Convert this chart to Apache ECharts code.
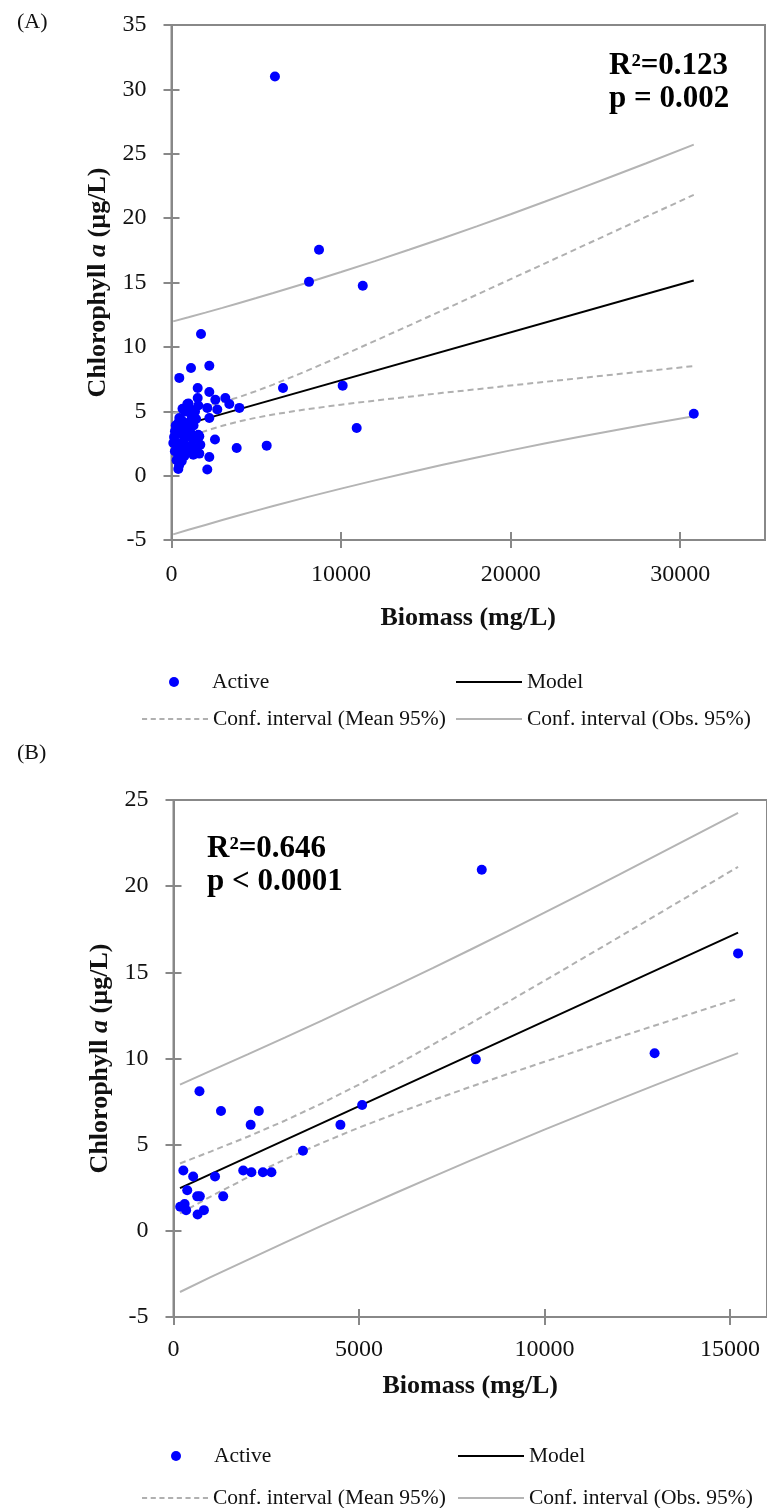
<!DOCTYPE html>
<html><head><meta charset="utf-8">
<script src="https://cdn.jsdelivr.net/npm/echarts@6/dist/echarts.min.js"></script>
<style>html,body{margin:0;padding:0;background:#fff}#c{width:767px;height:1508px}</style>
</head><body><div id="c"></div>
<script>
// ---------- Panel A data ----------
const aActiveX = [6100,8700,8110,11280,1740,1150,2230,460,6575,10095,1545,2230,1545,2585,3175,3410,4000,932,1580,2110,2700,796,1386,460,1190,2230,400,10920,206,896,1580,1640,2565,206,696,1286,3845,5614,307,896,1286,1640,2230,400,601,400,2110,106,30800,
  150,250,300,350,500,550,600,700,750,800,850,1000,1050,1100,1200,1300,1400,1450,200,450,1700,1000,1200,650];
const aActiveY = [31.0,17.55,15.05,14.75,11.0,8.36,8.54,7.59,6.81,6.99,6.81,6.5,6.03,5.9,6.03,5.57,5.26,5.57,5.44,5.26,5.13,4.99,4.99,4.48,4.61,4.48,4.09,3.7,3.44,3.57,3.18,3.05,2.8,2.66,2.66,2.8,2.15,2.33,2.02,1.89,1.63,1.71,1.45,1.5,1.11,0.52,0.47,2.54,4.8,
  3.0,3.9,1.2,2.3,3.3,2.0,4.3,3.7,1.5,2.4,3.0,4.1,1.9,3.4,2.3,3.9,2.0,4.4,1.9,0.8,2.4,5.6,5.1,5.2];
const aModelX = [100, 30800];
const aModelY = [3.71, 15.16];
const aCiX      = [100,1000,2000,3000,4000,5000,6000,8000,10000,12000,14000,16000,18000,20000,22000,24000,26000,28000,30800];
const aMeanUp   = [4.85,5.07,5.36,5.71,6.11,6.57,7.07,8.15,9.29,10.47,11.65,12.85,14.05,15.26,16.47,17.68,18.89,20.11,21.81];
const aMeanLo   = [2.56,3.01,3.47,3.87,4.22,4.50,4.75,5.16,5.51,5.83,6.13,6.43,6.71,7.00,7.28,7.56,7.84,8.12,8.51];
const aObsUp    = [11.98,12.30,12.66,13.03,13.41,13.79,14.18,14.98,15.81,16.66,17.54,18.44,19.36,20.30,21.27,22.25,23.25,24.26,25.71];
const aObsLo    = [-4.56,-4.21,-3.83,-3.45,-3.08,-2.72,-2.36,-1.67,-1.01,-0.37,0.25,0.84,1.41,1.96,2.49,3.00,3.49,3.97,4.61];

// ---------- Panel B data ----------
const bActiveX = [180,300,340,650,820,265,370,530,640,710,700,1120,1340,1280,1880,2080,2100,2300,2410,2640,3490,4500,5085,8150,8310,12970,15220];
const bActiveY = [1.4,1.55,1.2,0.95,1.2,3.5,2.35,3.15,2.0,2.0,8.1,3.15,2.0,6.95,3.5,6.15,3.4,6.95,3.4,3.4,4.65,6.15,7.3,9.95,20.95,10.3,16.1];
const bModelX = [175, 15220];
const bModelY = [2.48, 17.30];
const bCiX      = [175,1000,2000,3000,4000,5000,6000,7000,8000,9000,10000,11000,12000,13000,14000,15220];
const bMeanUp   = [3.91,4.60,5.46,6.39,7.40,8.49,9.63,10.82,12.03,13.26,14.51,15.77,17.03,18.30,19.57,21.12];
const bMeanLo   = [1.01,1.99,3.10,4.14,5.10,5.99,6.81,7.59,8.35,9.09,9.81,10.52,11.23,11.93,12.63,13.48];
const bObsUp    = [8.48,9.28,10.24,11.21,12.20,13.21,14.23,15.26,16.31,17.38,18.46,19.55,20.65,21.77,22.89,24.25];
const bObsLo    = [-3.55,-2.69,-1.68,-0.68,0.30,1.26,2.21,3.15,4.07,4.97,5.87,6.74,7.61,8.47,9.31,10.31];

// ---------- labels ----------
const nActive = 'Active', nModel = 'Model', nMean = 'Conf. interval (Mean 95%)', nObs = 'Conf. interval (Obs. 95%)';
const xTitle = 'Biomass (mg/L)';
const statsA = 'R\u00B2=0.123\np = 0.002';
const statsB = 'R\u00B2=0.646\np < 0.0001';

const FONT = 'Liberation Serif, Times New Roman, serif';
const AX = '#888888';
const MEAN_C = '#b0b0b0', OBS_C = '#b4b4b4';
const pair = (xs, ys) => xs.map((x, i) => [x, ys[i]]);

// legend icons (style only)
const solidIcon = 'path://M0,0H66V2H0Z';
let dashed = 'path://';
for (let s = 0; s < 66; s += 8.5) { const e = Math.min(s + 5, 66); dashed += 'M' + s + ',0H' + e + 'V2H' + s + 'Z'; }
const dashedIcon = dashed;

function xAxes(gi, max, interval, gap) {
  const base = {gridIndex: gi, type: 'value', min: 0, max: max, interval: interval, splitLine: {show: false}, position: 'bottom'};
  return [
    Object.assign({}, base, {
      axisLine: {show: true, onZero: false, lineStyle: {color: AX, width: 2}},
      axisTick: {show: true, length: 8, lineStyle: {color: AX, width: 2}},
      axisLabel: {show: true, showMaxLabel: false, margin: gap.label, fontFamily: FONT, fontSize: 24, color: '#111',
        formatter: v => String(v)},
      name: xTitle, nameLocation: 'middle', nameGap: gap.name,
      nameTextStyle: {fontFamily: FONT, fontSize: 26, fontWeight: 'bold', color: '#111'}
    }),
    Object.assign({}, base, {
      axisLine: {show: false, onZero: false},
      axisTick: {show: true, inside: true, length: 8, lineStyle: {color: AX, width: 2}},
      axisLabel: {show: false}
    })
  ];
}
function yAxes(gi, min, max) {
  const base = {gridIndex: gi, type: 'value', min: min, max: max, interval: 5, splitLine: {show: false}, position: 'left'};
  return [
    Object.assign({}, base, {
      axisLine: {show: true, onZero: false, lineStyle: {color: AX, width: 2}},
      axisTick: {show: true, length: 8, lineStyle: {color: AX, width: 2}},
      axisLabel: {margin: 25, fontFamily: FONT, fontSize: 24, color: '#111'},
      name: 'Chlorophyll {i|a} (\u00B5g/L)', nameLocation: 'middle', nameGap: 56, nameRotate: 90,
      nameTextStyle: {fontFamily: FONT, fontSize: 26, fontWeight: 'bold', color: '#111',
        rich: {i: {fontFamily: FONT, fontSize: 26, fontWeight: 'bold', fontStyle: 'italic', color: '#111'}}}
    }),
    Object.assign({}, base, {
      axisLine: {show: false, onZero: false},
      axisTick: {show: true, inside: true, length: 8, lineStyle: {color: AX, width: 2}},
      axisLabel: {show: false}
    })
  ];
}

function panelSeries(xi, yi, act, mdl, ci) {
  const line = (name, data, style, z) => ({
    name: name, type: 'line', xAxisIndex: xi, yAxisIndex: yi, data: data,
    symbol: 'none', showSymbol: false, lineStyle: style, itemStyle: {color: style.color},
    z: z, silent: true, animation: false
  });
  const meanStyle = {color: MEAN_C, width: 2, type: [6, 4]};
  const obsStyle = {color: OBS_C, width: 2, type: 'solid'};
  return [
    line(nObs, pair(ci.x, ci.ou), obsStyle, 2),
    line(nObs, pair(ci.x, ci.ol), obsStyle, 2),
    line(nMean, pair(ci.x, ci.mu), meanStyle, 3),
    line(nMean, pair(ci.x, ci.ml), meanStyle, 3),
    line(nModel, pair(mdl.x, mdl.y), {color: '#000', width: 2, type: 'solid'}, 4),
    {name: nActive, type: 'scatter', xAxisIndex: xi, yAxisIndex: yi, data: pair(act.x, act.y),
     symbol: 'circle', symbolSize: 10, itemStyle: {color: '#0000ff', opacity: 1}, z: 5, animation: false}
  ];
}

function legends(rows, spec) {
  const ts = {fontFamily: FONT, fontSize: 21.5, color: '#111', lineHeight: 24};
  return [
    {data: [{name: nActive, icon: 'circle', itemStyle: {color: '#0000ff'}}], left: spec.actL, top: rows[0], itemWidth: 10, itemHeight: 10,
     textStyle: Object.assign({}, ts, {padding: [0, 0, 0, spec.actPad]}), selectedMode: false},
    {data: [{name: nModel, icon: solidIcon, itemStyle: {color: '#000'}}], left: spec.modL, top: rows[0], itemWidth: 66, itemHeight: 12, textStyle: ts, selectedMode: false},
    {data: [{name: nMean, icon: dashedIcon, itemStyle: {color: MEAN_C}}], left: 137, top: rows[1], itemWidth: 66, itemHeight: 12, textStyle: ts, selectedMode: false},
    {data: [{name: nObs, icon: solidIcon, itemStyle: {color: OBS_C}}], left: spec.modL, top: rows[1], itemWidth: 66, itemHeight: 12, textStyle: ts, selectedMode: false}
  ];
}

const chart = echarts.init(document.getElementById('c'), null, {renderer: 'canvas'});
chart.setOption({
  backgroundColor: '#ffffff',
  animation: false,
  grid: [
    {left: 171.5, top: 25, width: 593.5, height: 515, show: true, borderColor: AX, borderWidth: 2, backgroundColor: 'transparent'},
    {left: 173.5, top: 800, width: 595, height: 517, show: true, borderColor: AX, borderWidth: 2, backgroundColor: 'transparent'}
  ],
  xAxis: [].concat(xAxes(0, 35000, 10000, {label: 23, name: 65}), xAxes(1, 16000, 5000, {label: 21, name: 56})),
  yAxis: [].concat(yAxes(0, -5, 35), yAxes(1, -5, 25)),
  title: [
    {text: '(A)', left: 12, top: 6, textStyle: {fontFamily: FONT, fontSize: 22, fontWeight: 'normal', color: '#111'}},
    {text: '(B)', left: 12, top: 737, textStyle: {fontFamily: FONT, fontSize: 22, fontWeight: 'normal', color: '#111'}},
    {text: statsA, left: 604, top: 44, textStyle: {fontFamily: FONT, fontSize: 31, fontWeight: 'bold', lineHeight: 33, color: '#000'}},
    {text: statsB, left: 202, top: 827, textStyle: {fontFamily: FONT, fontSize: 31, fontWeight: 'bold', lineHeight: 33, color: '#000'}}
  ],
  legend: [].concat(
    legends([665, 702], {actL: 164, actPad: 28, modL: 451}),
    legends([1439, 1481], {actL: 166, actPad: 28, modL: 453})
  ),
  series: [].concat(
    panelSeries(0, 0, {x: aActiveX, y: aActiveY}, {x: aModelX, y: aModelY},
      {x: aCiX, mu: aMeanUp, ml: aMeanLo, ou: aObsUp, ol: aObsLo}),
    panelSeries(2, 2, {x: bActiveX, y: bActiveY}, {x: bModelX, y: bModelY},
      {x: bCiX, mu: bMeanUp, ml: bMeanLo, ou: bObsUp, ol: bObsLo})
  )
});
</script>
</body></html>
